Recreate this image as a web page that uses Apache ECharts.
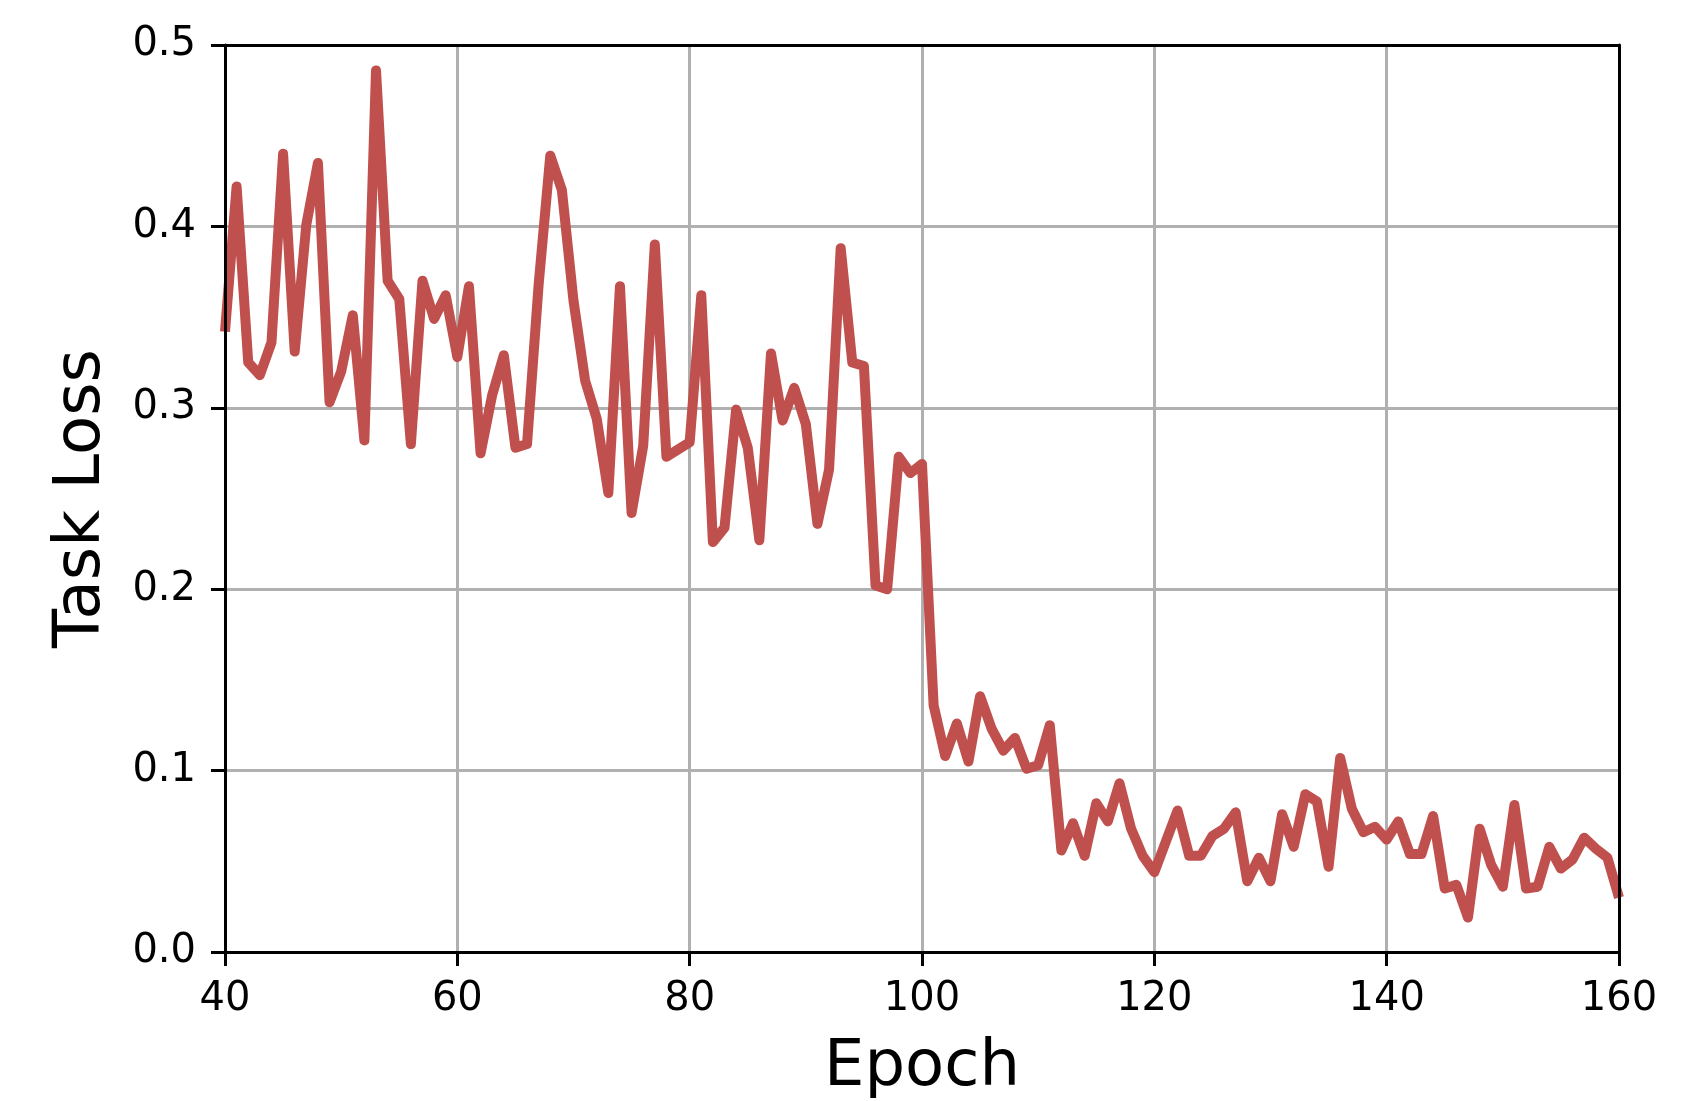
<!DOCTYPE html>
<html>
<head>
<meta charset="utf-8">
<script src="https://cdn.jsdelivr.net/npm/echarts@6/dist/echarts.min.js"></script>
<style>
html,body{margin:0;padding:0;background:#fff;}
#chart{width:1700px;height:1101px;}
</style>
</head>
<body>
<div id="chart"></div>
<script>
const epochs = [40,41,42,43,44,45,46,47,48,49,50,51,52,53,54,55,56,57,58,59,
  60,61,62,63,64,65,66,67,68,69,70,71,72,73,74,75,76,77,78,79,
  80,81,82,83,84,85,86,87,88,89,90,91,92,93,94,95,96,97,98,99,
  100,101,102,103,104,105,106,107,108,109,110,111,112,113,114,115,116,117,118,119,
  120,121,122,123,124,125,126,127,128,129,130,131,132,133,134,135,136,137,138,139,
  140,141,142,143,144,145,146,147,148,149,150,151,152,153,154,155,156,157,158,159,160];
const taskLoss = [0.342,0.422,0.325,0.318,0.336,0.440,0.331,0.401,0.435,0.303,
  0.320,0.351,0.282,0.486,0.370,0.360,0.280,0.370,0.349,0.362,
  0.328,0.367,0.275,0.307,0.329,0.278,0.280,0.368,0.439,0.420,
  0.359,0.315,0.294,0.253,0.367,0.242,0.279,0.390,0.273,0.277,
  0.281,0.362,0.226,0.234,0.299,0.278,0.227,0.330,0.293,0.311,
  0.291,0.236,0.266,0.388,0.325,0.323,0.202,0.200,0.273,0.264,
  0.269,0.136,0.108,0.126,0.105,0.141,0.123,0.111,0.118,0.101,
  0.103,0.125,0.056,0.071,0.053,0.082,0.072,0.093,0.068,0.053,
  0.044,0.061,0.078,0.053,0.053,0.064,0.068,0.077,0.039,0.052,
  0.039,0.076,0.058,0.087,0.083,0.047,0.107,0.079,0.066,0.069,
  0.062,0.072,0.054,0.054,0.075,0.035,0.037,0.019,0.068,0.048,
  0.036,0.081,0.035,0.036,0.058,0.046,0.051,0.063,0.057,0.052,0.030];
const xTicks = {min: 40, max: 160, interval: 20};
const yTicks = {min: 0, max: 0.5, interval: 0.1};

const FONT = 'DejaVu Sans';
const gridRect = {left: 225, top: 45, width: 1394, height: 907, outerBoundsMode: 'none', containLabel: false};
const spine = {show: true, onZero: false, lineStyle: {color: '#000', width: 3}};
const off = {show: false};

function spineAxis(base, pos, grid) {
  return Object.assign({}, base, {
    type: 'value', gridIndex: grid, position: pos, z: 5,
    axisLine: spine, axisTick: off, axisLabel: off, splitLine: off
  });
}

const chart = echarts.init(document.getElementById('chart'), null, {renderer: 'canvas'});
chart.setOption({
  backgroundColor: '#fff',
  animation: false,
  grid: [Object.assign({}, gridRect), Object.assign({}, gridRect)],
  xAxis: [
    {
      type: 'value', gridIndex: 0, position: 'bottom',
      min: xTicks.min, max: xTicks.max, interval: xTicks.interval,
      axisLine: {show: false, onZero: false},
      axisTick: {show: true, inside: false, length: 14, lineStyle: {color: '#000', width: 3}},
      axisLabel: {show: true, fontSize: 40, color: '#000', fontFamily: FONT, margin: 28},
      splitLine: {show: true, lineStyle: {color: '#b0b0b0', width: 3}},
      name: 'Epoch', nameLocation: 'middle', nameGap: 84,
      nameTextStyle: {fontSize: 64, color: '#000', fontFamily: FONT}
    },
    spineAxis(xTicks, 'bottom', 1),
    spineAxis(xTicks, 'top', 1)
  ],
  yAxis: [
    {
      type: 'value', gridIndex: 0, position: 'left',
      min: yTicks.min, max: yTicks.max, interval: yTicks.interval,
      axisLine: {show: false, onZero: false},
      axisTick: {show: true, inside: false, length: 14, lineStyle: {color: '#000', width: 3}},
      axisLabel: {show: true, fontSize: 40, color: '#000', fontFamily: FONT, margin: 29,
        formatter: v => v.toFixed(1)},
      splitLine: {show: true, lineStyle: {color: '#b0b0b0', width: 3}},
      name: 'Task Loss', nameLocation: 'middle', nameGap: 111, nameRotate: 90,
      nameTextStyle: {fontSize: 64, color: '#000', fontFamily: FONT}
    },
    spineAxis(yTicks, 'left', 1),
    spineAxis(yTicks, 'right', 1)
  ],
  series: [{
    type: 'line',
    xAxisIndex: 0, yAxisIndex: 0,
    data: epochs.map((e, i) => [e, taskLoss[i]]),
    showSymbol: false,
    clip: true,
    z: 3,
    lineStyle: {color: '#c0504d', width: 10, join: 'round', cap: 'butt'}
  }]
});
</script>
</body>
</html>
